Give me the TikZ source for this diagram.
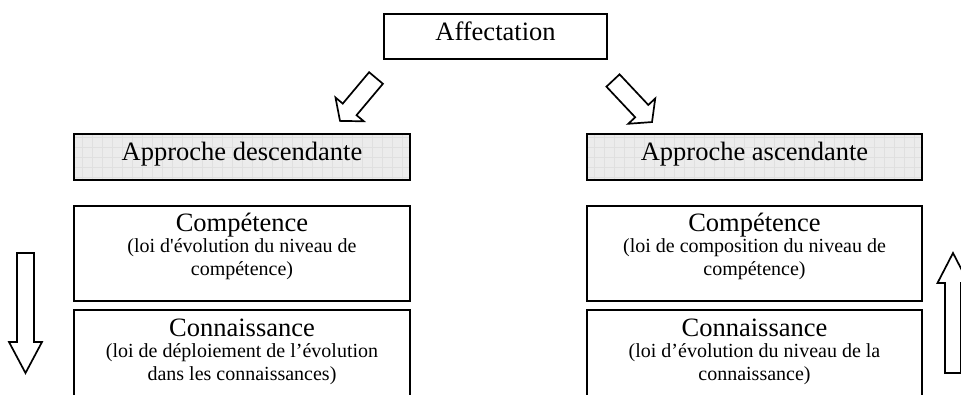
\documentclass[tikz,border=0pt]{standalone}
\usepackage{fontspec}
\setmainfont{Liberation Serif}
\usetikzlibrary{calc}

\definecolor{boxgray}{RGB}{236,236,236}
\definecolor{gridgray}{RGB}{224,224,224}

\tikzset{
  box/.style={draw, line width=2.3pt, anchor=north west, inner sep=0pt, outer sep=0pt},
  shadedbox/.style={box, fill=boxgray,
    path picture={\draw[gridgray, line width=0.6pt]
      (path picture bounding box.south west) grid[step=10pt]
      (path picture bounding box.north east);}},
  title/.style={font=\fontsize{26.5}{30}\selectfont, anchor=base, inner sep=0pt},
  note/.style={font=\fontsize{20}{23}\selectfont, anchor=base, inner sep=0pt},
  blockline/.style={draw, line width=1.7pt, fill=white, line join=miter},
  % hollow block arrow: length, shaft width, head width, head length
  pics/blockarrow/.style n args={4}{code={
    \path[blockline] (0,-#2/2) -- (#1-#4,-#2/2) -- (#1-#4,-#3/2) -- (#1,0)
      -- (#1-#4,#3/2) -- (#1-#4,#2/2) -- (0,#2/2) -- cycle;
  }},
}

\begin{document}
\begin{tikzpicture}[x=1pt, y=-1pt]
  \useasboundingbox (0,0) rectangle (961,395);
  \clip (0,0) rectangle (961,395);

  % top box
  \node[box, minimum width=223pt, minimum height=45pt] (aff) at (384,14) {};
  \node[title] (affT) at ($(aff.north)+(0,27)$) {Affectation};

  % approach headers
  \node[shadedbox, minimum width=336pt, minimum height=46pt] (desc) at (74,134) {};
  \node[title] (descT) at ($(desc.north)+(0,27)$) {Approche descendante};
  \node[shadedbox, minimum width=335pt, minimum height=46pt] (asc) at (587,134) {};
  \node[title] (ascT) at ($(asc.north)+(0,27)$) {Approche ascendante};

  % left column
  \node[box, minimum width=336pt, minimum height=95pt] (compL) at (74,206) {};
  \node[title] (compLT) at ($(compL.north)+(0,26)$) {Compétence};
  \node[note] (compLa) at ($(compL.north)+(0,47)$) {(loi d\textquotesingle évolution du niveau de};
  \node[note] (compLb) at ($(compL.north)+(0,70)$) {compétence)};

  \node[box, minimum width=336pt, minimum height=120pt] (connL) at (74,310) {};
  \node[title] (connLT) at ($(connL.north)+(0,26)$) {Connaissance};
  \node[note] (connLa) at ($(connL.north)+(0,47)$) {(loi de déploiement de l’évolution};
  \node[note] (connLb) at ($(connL.north)+(0,70)$) {dans les connaissances)};

  % right column
  \node[box, minimum width=335pt, minimum height=95pt] (compR) at (587,206) {};
  \node[title] (compRT) at ($(compR.north)+(0,26)$) {Compétence};
  \node[note] (compRa) at ($(compR.north)+(0,47)$) {(loi de composition du niveau de};
  \node[note] (compRb) at ($(compR.north)+(0,70)$) {compétence)};

  \node[box, minimum width=335pt, minimum height=120pt] (connR) at (587,310) {};
  \node[title] (connRT) at ($(connR.north)+(0,26)$) {Connaissance};
  \node[note] (connRa) at ($(connR.north)+(0,47)$) {(loi d’évolution du niveau de la};
  \node[note] (connRb) at ($(connR.north)+(0,70)$) {connaissance)};

  % block arrows
  \pic[rotate=230] at ($(aff.south west)+(-8,19)$) {blockarrow={56}{18}{37}{15}};
  \pic[rotate=-46.8] at ($(aff.south east)+(6,21.5)$) {blockarrow={57}{18}{37}{15}};
  \pic[rotate=-90] at ($(compL.north west)+(-48.5,47)$) {blockarrow={120}{17}{33}{31}};
  \pic[rotate=90] at ($(connR.north east)+(31,63)$) {blockarrow={120}{16}{31}{30}};
\end{tikzpicture}
\end{document}
